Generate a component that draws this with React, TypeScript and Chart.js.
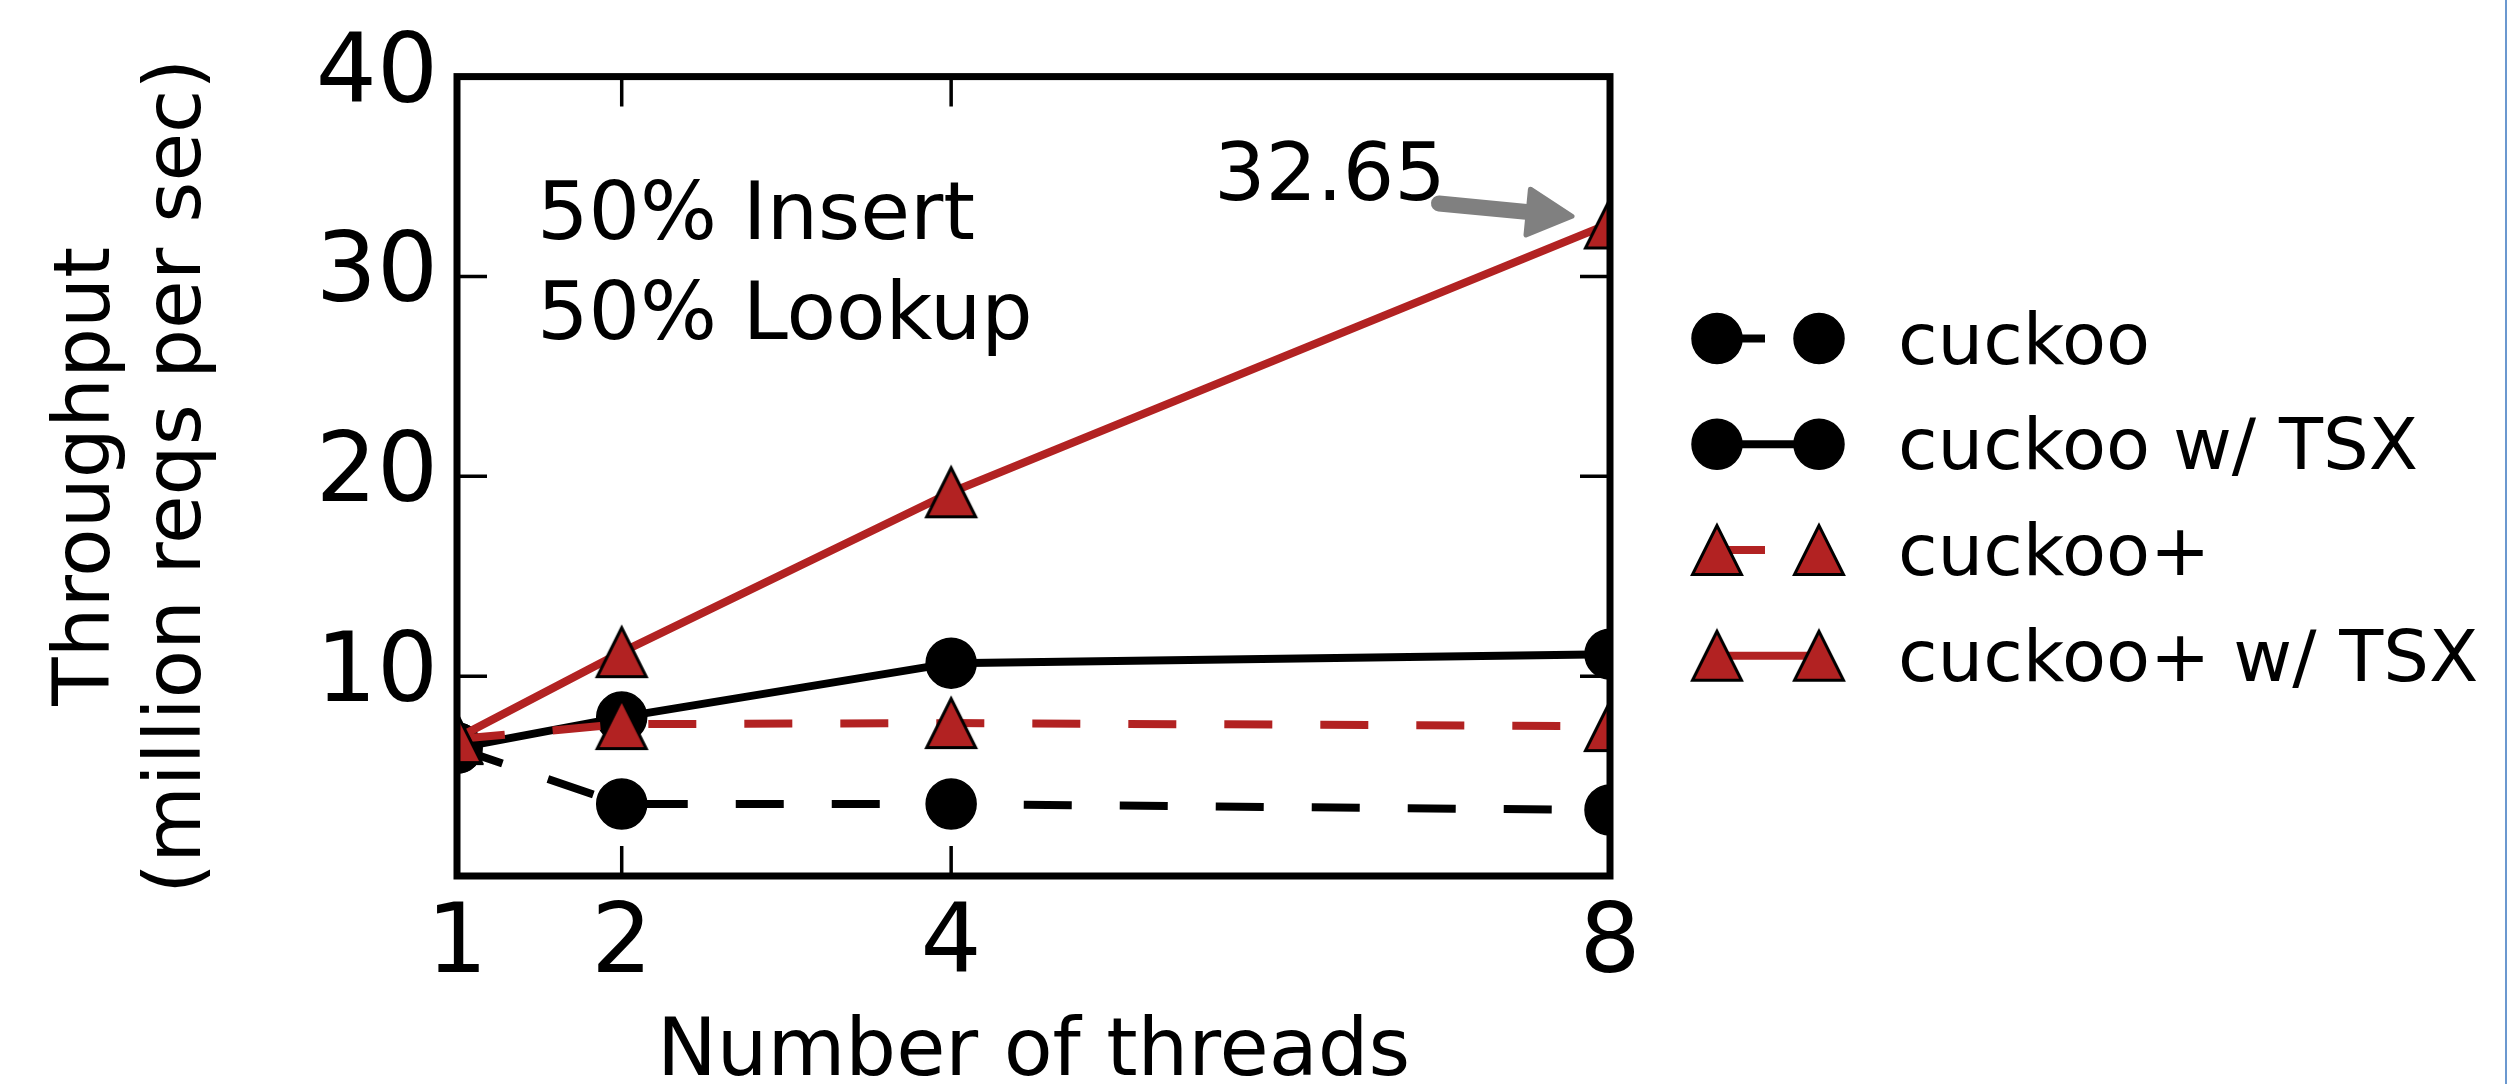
import React, { useEffect, useRef } from 'react';
import { Chart, registerables } from 'chart.js';

Chart.register(...registerables);

// ---------- data ----------
const threads = [1, 2, 4, 8];
const xTickValues = [1, 2, 4, 8];
const yTickValues = [10, 20, 30, 40];
const cuckoo = [6.4, 3.6, 3.6, 3.3];
const cuckooTSX = [6.4, 7.95, 10.65, 11.1];
const cuckooPlus = [6.85, 7.6, 7.65, 7.5];
const cuckooPlusTSX = [6.9, 11.2, 19.2, 32.65];
const seriesLabels = ['cuckoo', 'cuckoo w/ TSX', 'cuckoo+', 'cuckoo+ w/ TSX'];
const xTitle = 'Number of threads';
const yTitle = ['Throughput', '(million reqs per sec)'];
const workloadText = ['50% Insert', '50% Lookup'];
const peakLabel = '32.65';

const FONT = 'DejaVu Sans';
const RED = '#b22222';
const BLACK = '#000000';
const DASH = [48, 48];

function makeTriangle(): HTMLCanvasElement {
  const c = document.createElement('canvas');
  c.width = 62;
  c.height = 62;
  const g = c.getContext('2d')!;
  const h = 24.5;
  g.beginPath();
  g.moveTo(31, 31 - h);
  g.lineTo(31 - h, 31 + h);
  g.lineTo(31 + h, 31 + h);
  g.closePath();
  g.fillStyle = RED;
  g.fill();
  g.lineWidth = 3;
  g.lineJoin = 'miter';
  g.strokeStyle = BLACK;
  g.stroke();
  return c;
}

const toPoints = (ys: number[]) => threads.map((t, i) => ({ x: t, y: ys[i] }));

export default function App() {
  const ref = useRef<HTMLCanvasElement>(null);

  useEffect(() => {
    const tri = makeTriangle();
    Chart.defaults.font.family = FONT;

    const common = {
      borderWidth: 8,
      tension: 0,
      clip: 0,
      pointRadius: 25,
      pointHoverRadius: 25,
      borderJoinStyle: 'round' as const,
      borderCapStyle: 'butt' as const,
    };

    const datasets: any[] = [
      {
        ...common,
        label: seriesLabels[0],
        data: toPoints(cuckoo),
        borderColor: BLACK,
        borderDash: DASH,
        pointStyle: 'circle',
        pointBackgroundColor: BLACK,
        pointBorderColor: BLACK,
        pointBorderWidth: 1.5,
        order: 4,
      },
      {
        ...common,
        label: seriesLabels[1],
        data: toPoints(cuckooTSX),
        borderColor: BLACK,
        pointStyle: 'circle',
        pointBackgroundColor: BLACK,
        pointBorderColor: BLACK,
        pointBorderWidth: 1.5,
        order: 3,
      },
      {
        ...common,
        label: seriesLabels[2],
        data: toPoints(cuckooPlus),
        borderColor: RED,
        borderDash: DASH,
        pointStyle: tri,
        order: 2,
      },
      {
        ...common,
        label: seriesLabels[3],
        data: toPoints(cuckooPlusTSX),
        borderColor: RED,
        pointStyle: tri,
        order: 1,
      },
    ];

    const decor = {
      id: 'decor',
      afterDatasetsDraw(chart: any) {
        const { ctx, chartArea: a, scales } = chart;
        const x = scales.x;
        const y = scales.y;
        ctx.save();

        // inward tick marks on all four sides
        ctx.strokeStyle = BLACK;
        ctx.lineWidth = 3.5;
        ctx.lineCap = 'butt';
        const tl = 30;
        ctx.beginPath();
        for (const v of yTickValues) {
          const py = y.getPixelForValue(v);
          if (py <= a.top + 1) continue;
          ctx.moveTo(a.left, py);
          ctx.lineTo(a.left + tl, py);
          ctx.moveTo(a.right, py);
          ctx.lineTo(a.right - tl, py);
        }
        for (const v of xTickValues) {
          const px = x.getPixelForValue(v);
          if (px <= a.left + 1 || px >= a.right - 1) continue;
          ctx.moveTo(px, a.bottom);
          ctx.lineTo(px, a.bottom - tl);
          ctx.moveTo(px, a.top);
          ctx.lineTo(px, a.top + tl);
        }
        ctx.stroke();

        // frame
        ctx.lineWidth = 7;
        ctx.lineJoin = 'miter';
        ctx.strokeRect(a.left, a.top, a.right - a.left, a.bottom - a.top);

        // workload text
        ctx.fillStyle = BLACK;
        ctx.font = `81px "${FONT}"`;
        ctx.textAlign = 'left';
        ctx.textBaseline = 'alphabetic';
        ctx.fillText(workloadText[0], a.left + 80, a.top + 162);
        ctx.fillText(workloadText[1], a.left + 80, a.top + 262);

        // peak annotation with arrow
        const last = cuckooPlusTSX.length - 1;
        const px = x.getPixelForValue(threads[last]);
        const py = y.getPixelForValue(cuckooPlusTSX[last]);
        ctx.fillText(peakLabel, px - 396, py - 23);
        const tail = { x: px - 171, y: py - 20 };
        const tip = { x: px - 36, y: py - 7 };
        const dx = tip.x - tail.x;
        const dy = tip.y - tail.y;
        const L = Math.hypot(dx, dy);
        const ux = dx / L;
        const uy = dy / L;
        const nx = -uy;
        const ny = ux;
        const headLen = 46;
        const bx = tip.x - ux * headLen;
        const by = tip.y - uy * headLen;
        ctx.strokeStyle = '#808080';
        ctx.fillStyle = '#808080';
        ctx.lineCap = 'round';
        ctx.lineWidth = 16;
        ctx.beginPath();
        ctx.moveTo(tail.x, tail.y);
        ctx.lineTo(bx + ux * 6, by + uy * 6);
        ctx.stroke();
        ctx.lineJoin = 'round';
        ctx.lineWidth = 5;
        ctx.beginPath();
        ctx.moveTo(tip.x - ux * 2, tip.y - uy * 2);
        ctx.lineTo(bx + nx * 23, by + ny * 23);
        ctx.lineTo(bx - nx * 23, by - ny * 23);
        ctx.closePath();
        ctx.fill();
        ctx.stroke();

        // legend (two markers joined by line, matplotlib style)
        const x1 = a.right + 107;
        const x2 = a.right + 209;
        const tx = a.right + 288;
        ctx.font = `72px "${FONT}"`;
        chart.data.datasets.forEach((ds: any, i: number) => {
          const cy = a.top + 262 + i * 105.7;
          ctx.save();
          ctx.strokeStyle = ds.borderColor;
          ctx.lineWidth = ds.borderWidth;
          ctx.lineCap = 'butt';
          ctx.setLineDash(ds.borderDash || []);
          ctx.beginPath();
          ctx.moveTo(x1, cy);
          ctx.lineTo(x2, cy);
          ctx.stroke();
          ctx.restore();
          for (const mx of [x1, x2]) {
            if (ds.pointStyle === 'circle') {
              ctx.beginPath();
              ctx.arc(mx, cy, ds.pointRadius, 0, Math.PI * 2);
              ctx.fillStyle = ds.pointBackgroundColor;
              ctx.fill();
              ctx.lineWidth = ds.pointBorderWidth;
              ctx.strokeStyle = ds.pointBorderColor;
              ctx.stroke();
            } else {
              const img = ds.pointStyle as HTMLCanvasElement;
              ctx.drawImage(img, mx - img.width / 2, cy - img.height / 2);
            }
          }
          ctx.fillStyle = BLACK;
          ctx.fillText(ds.label, tx, cy + 25);
        });

        ctx.restore();
      },
    };

    const chart = new Chart(ref.current!, {
      type: 'line',
      data: { datasets },
      plugins: [decor],
      options: {
        animation: false,
        responsive: false,
        maintainAspectRatio: false,
        devicePixelRatio: 1,
        events: [],
        layout: { padding: { top: 75, right: 898, left: 0, bottom: 0 } },
        plugins: { legend: { display: false }, tooltip: { enabled: false } },
        scales: {
          x: {
            type: 'linear',
            position: 'bottom',
            min: 1,
            max: 8,
            afterBuildTicks: (s: any) => {
              s.ticks = xTickValues.map((v) => ({ value: v }));
            },
            afterFit: (s: any) => {
              s.height = 208;
            },
            grid: { display: false, drawTicks: false },
            border: { display: false },
            ticks: {
              color: BLACK,
              font: { family: FONT, size: 96, lineHeight: 1.2 },
              padding: 13,
              maxRotation: 0,
              autoSkip: false,
              callback: (v: any) => String(v),
            },
            title: {
              display: true,
              text: xTitle,
              color: BLACK,
              font: { family: FONT, size: 80, lineHeight: 0.75 },
              padding: 0,
            },
          },
          y: {
            type: 'linear',
            position: 'left',
            min: 0,
            max: 40,
            afterBuildTicks: (s: any) => {
              s.ticks = yTickValues.map((v) => ({ value: v }));
            },
            afterFit: (s: any) => {
              s.width = 457;
            },
            grid: { display: false, drawTicks: false },
            border: { display: false },
            ticks: {
              color: BLACK,
              font: { family: FONT, size: 96 },
              padding: 19,
              callback: (v: any) => String(v),
            },
            title: {
              display: true,
              text: yTitle,
              color: BLACK,
              font: { family: FONT, size: 79, lineHeight: 1.15 },
              padding: { top: 43, bottom: 0 },
            },
          },
        },
      },
    } as any);

    return () => chart.destroy();
  }, []);

  return (
    <>
      <canvas
        ref={ref}
        width={2508}
        height={1084}
        style={{ position: 'fixed', left: 0, top: 0, width: 2508, height: 1084, background: '#ffffff' }}
      />
      <div style={{ position: 'fixed', left: 2505, top: 0, width: 2, height: 1084, background: '#6b98cf' }} />
    </>
  );
}
